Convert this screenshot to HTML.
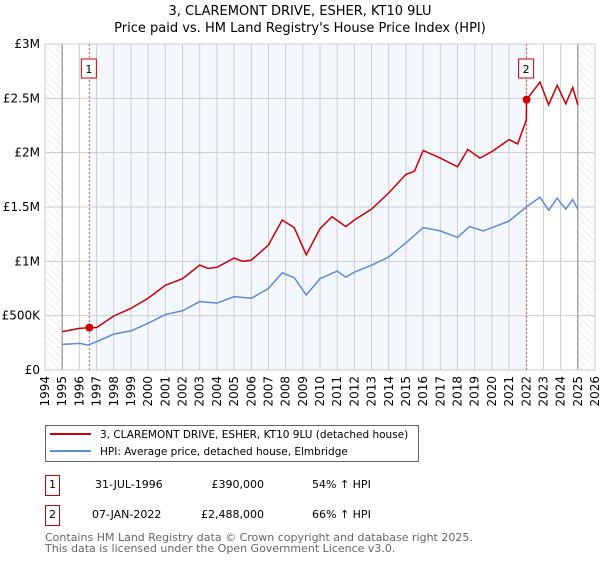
<!DOCTYPE html>
<html><head><meta charset="utf-8"><style>
body{margin:0;background:#fff;}
svg text{font-family:"DejaVu Sans","Liberation Sans",sans-serif;}
</style></head><body>
<svg id="chart" width="600" height="560" viewBox="0 0 600 560" xmlns="http://www.w3.org/2000/svg">
<defs>
<pattern id="hatch" width="5" height="5" patternUnits="userSpaceOnUse" patternTransform="rotate(-45)">
<line x1="0" y1="0" x2="0" y2="5" stroke="#d4d4d4" stroke-width="0.8"/>
</pattern>
</defs>
<text x="300" y="15" text-anchor="middle" font-size="13">3, CLAREMONT DRIVE, ESHER, KT10 9LU</text>
<text x="300" y="32" text-anchor="middle" font-size="13">Price paid vs. HM Land Registry's House Price Index (HPI)</text>
<g id="plot"></g>
<g>
<rect x="45.5" y="425.5" width="373" height="36" fill="#fff" stroke="#666"/>
<line x1="50" y1="434" x2="91" y2="434" stroke="#cc0000" stroke-width="2"/>
<text x="100" y="438" font-size="10.5">3, CLAREMONT DRIVE, ESHER, KT10 9LU (detached house)</text>
<line x1="50" y1="451" x2="91" y2="451" stroke="#5b8ed6" stroke-width="2"/>
<text x="100" y="455" font-size="10.5">HPI: Average price, detached house, Elmbridge</text>
</g>
<g font-size="11">
<rect x="45.5" y="475.5" width="14" height="20" fill="#fff" stroke="#cc0000"/>
<text x="52.5" y="488" text-anchor="middle">1</text>
<text x="95" y="488">31-JUL-1996</text>
<text x="264" y="488" text-anchor="end">£390,000</text>
<text x="312" y="488">54% ↑ HPI</text>
<rect x="45.5" y="505.5" width="14" height="20" fill="#fff" stroke="#cc0000"/>
<text x="52.5" y="518" text-anchor="middle">2</text>
<text x="92" y="518">07-JAN-2022</text>
<text x="264" y="518" text-anchor="end">£2,488,000</text>
<text x="312" y="518">66% ↑ HPI</text>
</g>
<text x="45" y="541" font-size="11" fill="#666">Contains HM Land Registry data © Crown copyright and database right 2025.</text>
<text x="45" y="552" font-size="11" fill="#666">This data is licensed under the Open Government Licence v3.0.</text>
</svg>
<script>
const hpiYears=[1995,1996,1996.5,1997,1998,1999,2000,2001,2002,2003,2004,2005,2006,2007,2007.8,2008.5,2009.2,2010,2011,2011.5,2012,2013,2014,2015,2016,2017,2018,2018.7,2019.5,2020,2021,2022,2022.8,2023.3,2023.8,2024.3,2024.7,2025];
const hpiValues=[0.236,0.245,0.23,0.26,0.33,0.36,0.43,0.51,0.545,0.63,0.615,0.675,0.66,0.75,0.895,0.85,0.69,0.84,0.91,0.855,0.9,0.965,1.04,1.17,1.31,1.28,1.22,1.32,1.28,1.31,1.37,1.50,1.59,1.47,1.58,1.48,1.57,1.48];
const priceYears=[1995,1996,1996.58,1997,1998,1999,2000,2001,2002,2003,2003.5,2004,2005,2005.5,2006,2007,2007.8,2008.5,2009.2,2010,2010.7,2011.5,2012,2013,2014,2015,2015.5,2016,2017,2018,2018.6,2019.3,2020,2021,2021.5,2022,2022.02,2022.8,2023.3,2023.8,2024.3,2024.7,2025];
const priceValues=[0.353,0.383,0.39,0.39,0.497,0.567,0.66,0.78,0.84,0.965,0.935,0.945,1.03,1.0,1.01,1.15,1.38,1.31,1.06,1.30,1.41,1.32,1.38,1.48,1.63,1.8,1.83,2.02,1.95,1.87,2.03,1.95,2.01,2.12,2.08,2.30,2.488,2.65,2.44,2.62,2.45,2.60,2.44];
const saleYears=[1996.58,2022.02];
const saleValues=[0.39,2.488];
const saleLabels=["1","2"];
const yTicks=[0,0.5,1,1.5,2,2.5,3];
const yTickLabels=["£0","£500K","£1M","£1.5M","£2M","£2.5M","£3M"];
const xTicks=[];for(let y=1994;y<=2026;y++)xTicks.push(y);

const L=45,R=595,T=44,B=370;
const x=v=>L+(v-1994)*(R-L)/32;
const y=v=>B-v*(B-T)/3;
const NS="http://www.w3.org/2000/svg";
const g=document.getElementById('plot');
function mk(t,a,p){const e=document.createElementNS(NS,t);for(const k in a)e.setAttribute(k,a[k]);(p||g).appendChild(e);return e;}

const bg=mk('rect',{x:x(saleYears[0]),y:T,width:x(saleYears[1])-x(saleYears[0]),height:B-T,fill:'#f4f7fd'});


const h1=mk('rect',{x:L,y:T,width:x(1995)-L,height:B-T,fill:'url(#hatch)'});


const h2=mk('rect',{x:x(2025),y:T,width:R-x(2025),height:B-T,fill:'url(#hatch)'});



xTicks.forEach(v=>{
  const l=mk('line',{x1:x(v),x2:x(v),y1:T,y2:B,stroke:'#ccc','stroke-width':1});
  
  
  const t=mk('text',{x:0,y:0,'font-size':12,'text-anchor':'end',transform:`translate(${x(v)+4},${B+6}) rotate(-90)`});
  t.textContent=v;
  
  
});
yTicks.forEach((v,i)=>{
  const l=mk('line',{x1:L,x2:R,y1:y(v),y2:y(v),stroke:'#ccc','stroke-width':1});
  
  
  const t=mk('text',{x:L-5,y:y(v)+4,'font-size':12,'text-anchor':'end'});
  t.textContent=yTickLabels[i];
  
  
});
[1995,2025].forEach(v=>{
  const l=mk('line',{x1:x(v),x2:x(v),y1:T,y2:B,stroke:'#888','stroke-width':1});
  
  
});
const fr=mk('rect',{x:L,y:T,width:R-L,height:B-T,fill:'none',stroke:'#ccc'});



saleYears.forEach((v,i)=>{
  const l=mk('line',{x1:x(v),x2:x(v),y1:T,y2:B,stroke:'#e05555','stroke-width':1,'stroke-dasharray':'2,2'});
  
  
  const r=mk('rect',{x:x(v)-8,y:T+15,width:15,height:19,fill:'#fff',stroke:'#cc0000'});
  
  
  const t=mk('text',{x:x(v)-0.5,y:T+29,'font-size':11,'text-anchor':'middle'});
  t.textContent=saleLabels[i];
  
  
});

const hp=mk('polyline',{points:hpiYears.map((v,i)=>x(v)+','+y(hpiValues[i])).join(' '),fill:'none',stroke:'#5b8ed6','stroke-width':1.5});


const pp=mk('polyline',{points:priceYears.map((v,i)=>x(v)+','+y(priceValues[i])).join(' '),fill:'none',stroke:'#cc0000','stroke-width':1.5});


saleYears.forEach((v,i)=>{
  const c=mk('circle',{cx:x(v),cy:y(saleValues[i]),r:4,fill:'#cc0000'});
  
  
});
</script>
</body></html>
